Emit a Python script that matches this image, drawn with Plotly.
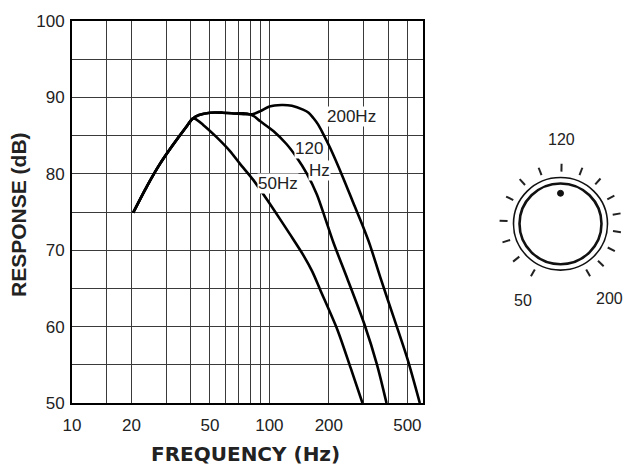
import math
import plotly.graph_objects as go

# ---------------- data ----------------
RISE_F = [20.4, 24.0, 27.9, 32.5, 38.3, 40.8]
RISE_DB = [74.9, 78.4, 81.3, 83.8, 86.3, 87.2]

F_50 = [42, 46.2, 54, 63, 71, 82.8, 96.8, 113, 127, 149, 165, 181, 221, 258, 296]
DB_50 = [87.2, 86.4, 84.8, 83.0, 81.3, 79.2, 76.7, 74.1, 72.1, 69.3, 67.2, 64.8, 59.6, 54.6, 50.0]

F_120 = [44, 50, 58, 66, 77, 84, 89.6, 104.7, 122, 137, 155, 174, 191, 211, 248, 302, 351, 392]
DB_120 = [87.7, 88.0, 88.0, 87.9, 87.9, 87.5, 86.9, 85.6, 83.9, 82.2, 80.0, 77.3, 74.3, 71.0, 66.3, 60.4, 55.0, 50.0]

F_200 = [44, 50, 58, 66, 74, 82, 90, 100, 115, 130, 148, 158, 167, 176, 185, 203, 237, 266, 299, 323, 364, 425, 500, 578]
DB_200 = [87.7, 88.0, 88.0, 87.9, 87.8, 87.8, 88.2, 88.8, 89.0, 88.9, 88.4, 88.0, 87.3, 86.5, 85.5, 83.4, 79.4, 76.2, 73.0, 70.7, 66.5, 61.3, 55.8, 50.0]

SERIES = [("50Hz", F_50, DB_50), ("120Hz", F_120, DB_120), ("200Hz", F_200, DB_200)]

X_TICKS = [10, 20, 50, 100, 200, 500]
X_TICK_LABELS = ["10", "20", "50", "100", "200", "500"]
X_MINOR = [15, 30, 40, 60, 70, 80, 90, 300, 400]
Y_TICKS = [50, 60, 70, 80, 90, 100]
Y_MINOR = [55, 65, 75, 85, 95]

CURVE_LABELS = [("200Hz", 262, 87.5), ("120", 159, 83.3), ("Hz", 180, 80.4), ("50Hz", 111, 78.7)]
KNOB_LABELS = ["120", "50", "200"]

# ---------------- figure ----------------
W, H = 625, 468
ML, MR, MT, MB = 72, 202, 15, 65
PW, PH = W - ML - MR, H - MT - MB


def px(X):
    return (X - ML) / PW


def py(Y):
    return (H - MB - Y) / PH


fig = go.Figure()
for name, f, db in SERIES:
    fig.add_trace(go.Scatter(
        x=RISE_F + f, y=RISE_DB + db, mode="lines", name=name,
        line=dict(color="black", width=2.6, shape="spline", smoothing=0.8),
        showlegend=False, hoverinfo="skip"))

GRID_C, GRID_W = "#3a3a3a", 1.3
TICK_FONT = dict(family="Liberation Sans", size=17, color="#222")
fig.update_xaxes(
    type="log", range=[1, math.log10(600)],
    tickvals=X_TICKS, ticktext=X_TICK_LABELS, ticks="",
    showgrid=True, gridcolor=GRID_C, gridwidth=GRID_W,
    minor=dict(tickvals=X_MINOR, showgrid=True, gridcolor=GRID_C, gridwidth=GRID_W, ticks=""),
    showline=True, linecolor="black", linewidth=2, mirror=True,
    zeroline=False, ticklabelstandoff=6, tickfont=TICK_FONT)
fig.update_yaxes(
    range=[50, 100], tickvals=Y_TICKS, ticks="",
    showgrid=True, gridcolor=GRID_C, gridwidth=GRID_W,
    minor=dict(tickvals=Y_MINOR, showgrid=True, gridcolor=GRID_C, gridwidth=GRID_W, ticks=""),
    showline=True, linecolor="black", linewidth=2, mirror=True,
    zeroline=False, ticklabelstandoff=2, tickfont=TICK_FONT)

annotations = []
for txt, f, db in CURVE_LABELS:
    annotations.append(dict(x=math.log10(f), y=db, xref="x", yref="y", text=txt, showarrow=False,
                            xanchor="center", yanchor="middle",
                            font=dict(family="Liberation Sans", size=17, color="#222"),
                            bgcolor="white", borderpad=0))

# axis titles
annotations.append(dict(x=px(245), y=py(455), xref="paper", yref="paper", text="FREQUENCY (Hz)",
                        xanchor="center", yanchor="middle", showarrow=False,
                        font=dict(family="DejaVu Sans", size=20, color="#222", weight="bold")))
annotations.append(dict(x=px(19), y=py(212), xref="paper", yref="paper", text="RESPONSE (dB)",
                        textangle=-90, xanchor="center", yanchor="middle", showarrow=False,
                        font=dict(family="Liberation Sans", size=21, color="#222", weight="bold")))

# knob
CX, CY = 560.5, 221
shapes = []
for r, w in [(47, 1.6), (41, 2.6)]:
    shapes.append(dict(type="circle", xref="paper", yref="paper",
                       x0=px(CX - r), x1=px(CX + r), y0=py(CY + r), y1=py(CY - r),
                       line=dict(color="#111", width=w)))
shapes.append(dict(type="circle", xref="paper", yref="paper",
                   x0=px(CX - 3), x1=px(CX + 3), y0=py(CY - 31 + 3), y1=py(CY - 31 - 3),
                   fillcolor="#111", line=dict(color="#111", width=1)))
for a in [-151, -129, -108, -87, -63, -42, -21, 1, 21, 41, 62, 80, 98, 117, 135, 151]:
    t = math.radians(a)
    x0, y0 = CX + 53 * math.sin(t), CY - 53 * math.cos(t)
    x1, y1 = CX + 61 * math.sin(t), CY - 61 * math.cos(t)
    shapes.append(dict(type="line", xref="paper", yref="paper",
                       x0=px(x0), y0=py(y0), x1=px(x1), y1=py(y1),
                       line=dict(color="#222", width=2)))
for txt, (X, Y) in zip(KNOB_LABELS, [(561, 135), (523, 299), (609, 297)]):
    annotations.append(dict(x=px(X), y=py(Y), xref="paper", yref="paper", text=txt, showarrow=False,
                            xanchor="center", yanchor="middle",
                            font=dict(family="Liberation Sans", size=16, color="#222")))

fig.update_layout(
    width=W, height=H, margin=dict(l=ML, r=MR, t=MT, b=MB),
    plot_bgcolor="white", paper_bgcolor="white",
    annotations=annotations, shapes=shapes)

fig.write_html("out.html", config={"displayModeBar": False},
               post_script="document.body.style.margin='0';")
